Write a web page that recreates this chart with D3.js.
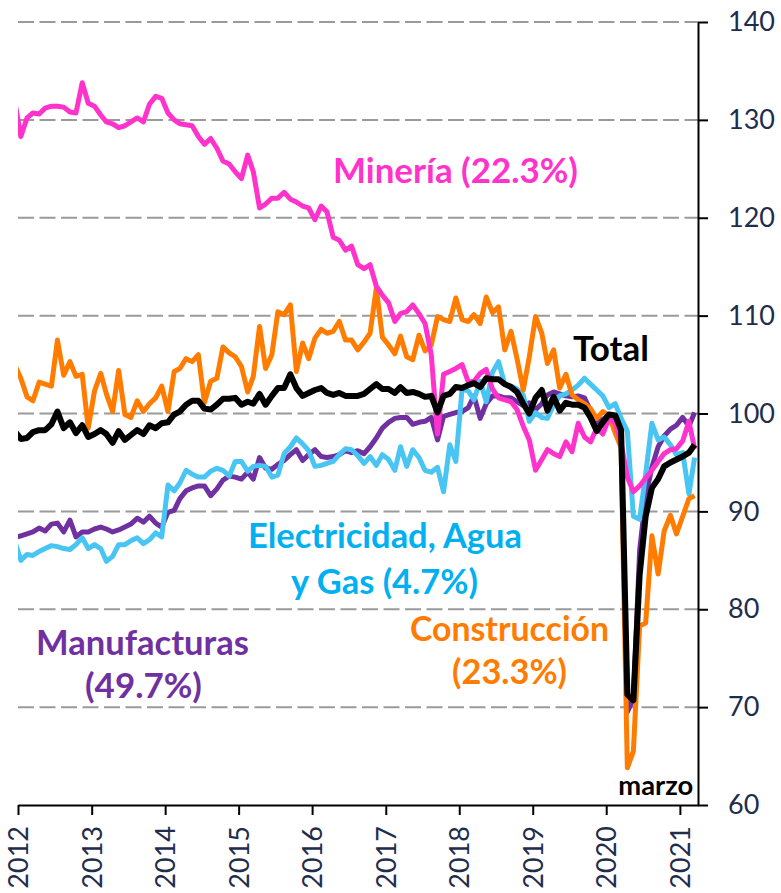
<!doctype html>
<html>
<head>
<meta charset="utf-8">
<script src="https://cdn.jsdelivr.net/npm/d3@7"></script>
<style>
  html, body { margin: 0; padding: 0; background: #fff; }
  svg { display: block; font-family: Lato, "Open Sans", sans-serif; }
  .grid line { stroke: #9a9a9a; stroke-width: 2; stroke-dasharray: 16 5.5; }
  .axis path, .axis line { stroke: #000; stroke-width: 2; }
  .axis text { fill: #1f2d4d; font-size: 27px; font-family: Lato, sans-serif; }
  .series { fill: none; stroke-width: 5; stroke-linejoin: round; stroke-linecap: butt; }
  .series.total { stroke-width: 6; }
  .label { font-weight: 700; }
</style>
</head>
<body>
<svg id="chart" width="781" height="893"></svg>
<script>
// monthly index, dic-2011 .. mar-2021 (first point sits left of the plot and gets clipped)
// one row per year
const total = [
  98.2,
  97.4, 97.5, 98.1, 98.3, 98.3, 98.9, 100.2, 98.5, 99.1, 98.0, 98.8, 97.6,
  97.9, 98.3, 97.9, 97.0, 98.2, 97.3, 97.8, 98.3, 97.9, 98.8, 98.5, 99.0,
  99.1, 99.9, 100.2, 100.9, 101.3, 101.3, 100.5, 100.4, 100.9, 101.5, 101.5, 101.6,
  100.9, 101.2, 101.0, 102.0, 100.9, 101.8, 102.6, 102.6, 104.0, 102.6, 101.8, 102.1,
  102.4, 102.6, 102.1, 101.9, 102.1, 101.8, 101.8, 101.8, 102.0, 102.5, 103.0, 102.5,
  102.5, 102.1, 102.7, 102.1, 102.2, 102.0, 101.7, 101.8, 100.1, 101.8, 102.0, 102.7,
  102.6, 102.9, 103.1, 102.7, 103.6, 103.5, 103.5, 103.0, 102.7, 102.2, 101.0, 100.0,
  101.6, 102.4, 100.3, 101.7, 100.3, 101.1, 100.9, 100.9, 100.6, 99.6, 98.2, 99.1,
  99.9, 99.8, 98.3, 71.3, 70.7, 83.5, 89.5, 92.4, 93.3, 94.6, 95.0, 95.3,
  95.6, 96.0, 96.8,
];
const mineria = [
  132.0,
  128.3, 130.2, 130.7, 130.6, 131.2, 131.4, 131.4, 131.3, 130.8, 130.7, 133.8, 131.7,
  131.4, 130.5, 129.8, 129.6, 129.2, 129.4, 129.8, 130.2, 129.8, 131.6, 132.4, 132.2,
  130.7, 130.0, 129.6, 129.5, 129.4, 128.3, 127.5, 128.1, 127.1, 125.8, 125.5, 124.7,
  124.0, 126.4, 124.7, 121.0, 121.4, 122.0, 122.0, 122.6, 121.9, 121.6, 121.2, 121.0,
  119.8, 121.2, 120.6, 118.0, 117.7, 116.7, 117.1, 115.2, 114.8, 115.2, 113.0, 112.1,
  111.3, 109.4, 110.2, 110.4, 111.1, 110.2, 109.2, 106.0, 97.9, 104.0, 104.3, 104.6,
  105.0, 103.2, 103.3, 104.1, 104.5, 102.5, 101.6, 101.4, 101.2, 100.4, 98.7, 97.3,
  94.2, 95.3, 96.3, 95.9, 95.6, 97.1, 96.1, 99.0, 97.6, 97.1, 98.5, 97.9,
  99.5, 99.0, 97.0, 93.5, 92.0, 92.6, 93.4, 94.2, 95.1, 95.9, 96.3, 96.4,
  97.2, 99.2, 96.4,
];
const construccion = [
  105.0,
  103.6, 101.7, 101.3, 103.2, 103.0, 102.8, 107.5, 103.9, 105.3, 103.8, 104.0, 98.5,
  102.3, 104.1, 102.0, 100.2, 104.4, 99.9, 99.6, 101.3, 100.2, 101.0, 101.6, 102.8,
  100.2, 104.3, 104.6, 105.6, 105.3, 106.0, 101.1, 103.3, 103.6, 106.8, 106.2, 105.8,
  104.8, 102.2, 103.8, 108.9, 104.6, 106.0, 110.4, 110.1, 111.1, 104.3, 107.2, 105.6,
  107.7, 108.6, 108.2, 108.4, 109.4, 107.5, 107.5, 106.5, 107.3, 108.2, 112.8, 107.8,
  107.0, 106.1, 107.9, 105.8, 105.5, 108.0, 106.4, 107.0, 109.9, 109.6, 109.4, 111.8,
  109.6, 109.4, 110.1, 109.2, 111.9, 110.3, 110.9, 106.5, 108.4, 105.6, 102.4, 105.8,
  109.9, 108.2, 105.1, 106.5, 102.6, 104.0, 101.9, 101.4, 101.0, 100.5, 99.5, 100.2,
  99.8, 98.0, 96.5, 63.8, 65.5, 78.3, 78.6, 87.5, 83.6, 88.0, 89.6, 87.7,
  89.5, 91.3, 91.6,
];
const manufacturas = [
  87.3,
  87.5, 87.7, 87.9, 88.3, 88.0, 88.7, 88.8, 87.9, 89.1, 87.4, 87.9, 87.9,
  88.2, 88.4, 88.2, 87.9, 88.1, 88.4, 88.7, 89.3, 88.9, 89.5, 88.8, 88.4,
  89.9, 90.1, 91.3, 92.1, 92.4, 92.6, 92.6, 91.6, 92.3, 93.2, 93.6, 93.5,
  93.3, 94.0, 93.3, 95.5, 94.4, 94.3, 94.8, 95.2, 95.8, 96.3, 95.2, 95.8,
  96.3, 95.6, 95.5, 95.6, 95.8, 96.2, 96.0, 96.2, 95.9, 96.6, 97.5, 98.5,
  99.1, 99.5, 99.6, 99.6, 98.9, 99.1, 99.2, 99.6, 97.3, 99.7, 99.9, 100.1,
  100.2, 100.6, 101.8, 99.5, 101.0, 101.8, 101.8, 101.6, 101.6, 101.2, 100.8, 101.1,
  100.4, 101.0, 101.9, 102.2, 102.0, 101.8, 101.7, 101.8, 101.6, 100.3, 99.1, 99.4,
  99.8, 99.5, 97.5, 69.5, 70.8, 86.0, 91.5, 94.5, 96.6, 97.7, 98.4, 98.8,
  99.6, 98.7, 100.1,
];
const electricidad = [
  87.0,
  85.0, 85.6, 85.5, 85.9, 86.2, 86.5, 86.4, 86.2, 86.1, 86.6, 87.3, 86.2,
  86.6, 86.2, 84.9, 85.4, 86.6, 86.6, 87.0, 87.3, 86.7, 87.1, 87.8, 87.4,
  92.7, 92.1, 92.9, 94.2, 93.8, 93.5, 93.5, 94.1, 94.4, 94.2, 93.6, 95.1,
  95.1, 94.1, 94.6, 94.7, 94.6, 93.5, 93.7, 95.9, 96.6, 97.5, 96.9, 96.2,
  94.6, 94.7, 94.9, 95.1, 95.8, 96.4, 96.3, 95.7, 94.9, 95.6, 94.7, 95.8,
  95.3, 94.2, 96.6, 94.6, 96.3, 95.5, 94.2, 94.0, 94.5, 92.0, 96.8, 95.1,
  102.5, 102.3, 101.4, 103.3, 101.2, 104.2, 105.3, 103.0, 102.8, 102.5, 101.9, 99.2,
  100.1, 99.6, 99.5, 100.9, 101.8, 102.0, 102.4, 102.9, 103.6, 103.0, 102.4, 101.8,
  100.6, 101.0, 99.5, 98.2, 89.5, 89.2, 93.8, 99.0, 97.3, 97.6, 96.8, 95.8,
  96.0, 91.8, 95.5,
];

const yTicks = [60, 70, 80, 90, 100, 110, 120, 130, 140];
const gridValues = [70, 80, 90, 100, 110, 120, 130, 140];

// back to front
const series = [
  { key: "manufacturas", values: manufacturas, color: "#7030a0" },
  { key: "electricidad", values: electricidad, color: "#48c5f3" },
  { key: "construccion", values: construccion, color: "#ff7c00" },
  { key: "mineria", values: mineria, color: "#ff33cc" },
  { key: "total", values: total, color: "#000" },
];

// text on the plot: centre x, baseline y, drawn width
const labels = [
  { text: "Minería (22.3%)", cx: 455.5, y: 183, w: 245, color: "#ff33cc", size: 32 },
  { text: "Total", cx: 611, y: 361, w: 76, color: "#000", size: 32 },
  { text: "Electricidad, Agua", cx: 385, y: 548, w: 274, color: "#00b0f0", size: 32 },
  { text: "y Gas (4.7%)", cx: 384.5, y: 594, w: 187, color: "#00b0f0", size: 32 },
  { text: "Manufacturas", cx: 142.5, y: 655, w: 213, color: "#7030a0", size: 32 },
  { text: "(49.7%)", cx: 143.5, y: 698, w: 117, color: "#7030a0", size: 32 },
  { text: "Construcción", cx: 509.5, y: 641, w: 199, color: "#ff7c00", size: 32 },
  { text: "(23.3%)", cx: 509.5, y: 684, w: 115, color: "#ff7c00", size: 32 },
  { text: "marzo", cx: 655.8, y: 795, w: 75, color: "#000", size: 22 },
];

// ---- scales ----
const months = d3.range(total.length).map((k) => new Date(2011, 11 + k, 15));
const plotL = 18, plotR = 698, plotT = 22, plotB = 805;
const x = d3.scaleTime().domain([new Date(2012, 0, 1), new Date(2021, 3, 1)]).range([plotL, plotR]);
const y = d3.scaleLinear().domain([60, 140]).range([plotB, plotT]);

const svg = d3.select("#chart");

svg.append("clipPath").attr("id", "plot-clip")
  .append("rect").attr("x", plotL).attr("y", 0).attr("width", plotR - plotL).attr("height", 893);

// ---- grid ----
svg.append("g").attr("class", "grid")
  .selectAll("line").data(gridValues).join("line")
  .attr("x1", plotL).attr("x2", plotR)
  .attr("y1", (d) => y(d)).attr("y2", (d) => y(d));

// ---- lines ----
const line = d3.line().x((d, i) => x(months[i])).y((d) => y(d));
svg.append("g").attr("clip-path", "url(#plot-clip)")
  .selectAll("path").data(series).join("path")
  .attr("class", (d) => "series " + d.key)
  .attr("stroke", (d) => d.color)
  .attr("d", (d) => line(d.values));

// ---- axes ----
svg.append("g").attr("class", "axis").attr("transform", `translate(${plotR},0)`)
  .call(d3.axisRight(y).tickValues(yTicks).tickSize(10).tickSizeOuter(0).tickPadding(20).tickFormat(d3.format("d")));

const xAxis = svg.append("g").attr("class", "axis").attr("transform", `translate(0,${plotB})`)
  .call(d3.axisBottom(x).ticks(d3.timeYear.every(1)).tickFormat(d3.timeFormat("%Y")).tickSize(10).tickSizeOuter(0));
xAxis.selectAll("text")
  .attr("transform", "rotate(-90)")
  .attr("x", -21).attr("y", 0).attr("dy", "0.35em")
  .style("text-anchor", "end");

// ---- labels, each squeezed to the width it has in the original ----
svg.append("g").selectAll("text").data(labels).join("text")
  .attr("class", "label")
  .attr("x", (d) => d.cx).attr("y", (d) => d.y)
  .attr("text-anchor", "middle")
  .attr("fill", (d) => d.color)
  .attr("font-size", (d) => d.size)
  .text((d) => d.text)
  .each(function (d) {
    const len = this.getComputedTextLength();
    if (len > 0) d3.select(this).attr("font-size", (d.size * d.w) / len);
  });
</script>
</body>
</html>
